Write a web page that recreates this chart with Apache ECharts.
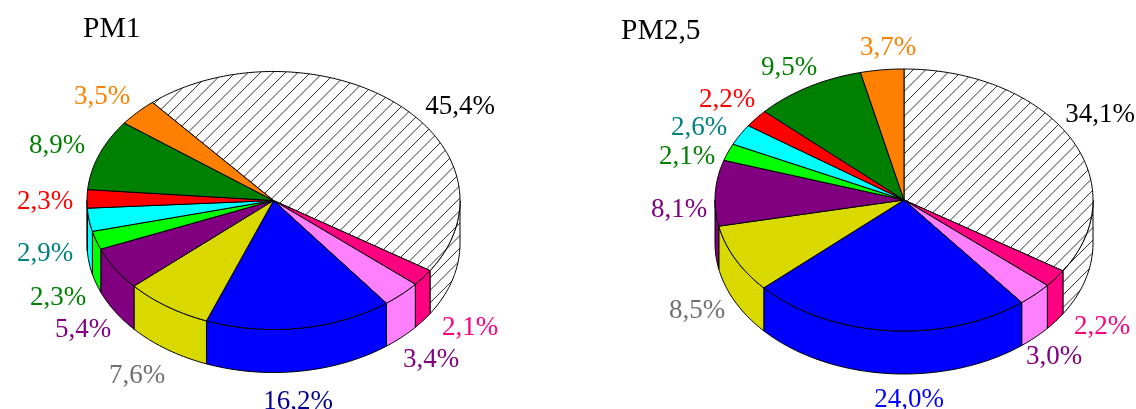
<!DOCTYPE html>
<html>
<head>
<meta charset="utf-8">
<style>html,body{margin:0;padding:0;background:#fff}#c{width:1136px;height:409px}</style>
<script src="https://cdn.jsdelivr.net/npm/echarts@6/dist/echarts.min.js"></script>
</head>
<body>
<div id="c"></div>
<script>
// Data
const pm1Values  = [45.4, 2.1, 3.4, 16.2, 7.6, 5.4, 2.3, 2.9, 2.3, 8.9, 3.5];
const pm25Values = [34.1, 2.2, 3.0, 24.0, 8.5, 8.1, 2.1, 2.6, 2.2, 9.5, 3.7];
const titles = ['PM1', 'PM2,5'];

// Styles
const sliceColors = ['hatch', '#ff0080', '#ff80ff', '#0000ff', '#d9d900', '#800080', '#00ff00', '#00ffff', '#ff0000', '#008000', '#ff8000'];
const pm1LabelColors  = ['#000000', '#ff0080', '#800080', '#000090', '#707070', '#800080', '#008000', '#008080', '#ff0000', '#008000', '#ff8000'];
const pm25LabelColors = ['#000000', '#ff0080', '#800080', '#0000ff', '#707070', '#800080', '#008000', '#008080', '#ff0000', '#008000', '#ff8000'];

// Layout
const pm1Pie  = {cx: 273.5, cy: 200.5, rx: 186.5, ry: 129, depth: 43, start: -40.5};
const pm25Pie = {cx: 904, cy: 200, rx: 189, ry: 131, depth: 43, start: 0};
const pm1LabelPos  = [[460,106.5],[470,327.5],[431,359.5],[298,401.5],[137,375.5],[83,329.5],[58,297.5],[45,253.5],[45,201.5],[57,145.5],[102,96.5]];
const pm25LabelPos = [[1100,114.5],[1102,326.5],[1054,356.5],[909,399.5],[697,310.5],[679,209.5],[687,156.5],[699,127.5],[727,99.5],[789,67.5],[888,47.5]];
const titlePos = [[83,29],[621,31]];
const FONT = '"Liberation Serif","Times New Roman",serif';

function makeHatch() {
  const s = 25, k = document.createElement('canvas');
  k.width = s; k.height = s;
  const g = k.getContext('2d');
  g.fillStyle = '#fff'; g.fillRect(0, 0, s, s);
  g.strokeStyle = '#333'; g.lineWidth = 1;
  g.beginPath();
  for (let c = -4.5; c < 2 * s + 5; c += 12.5) {
    g.moveTo(c + 5, -5); g.lineTo(-5, c + 5);
  }
  g.stroke();
  return k;
}
const hatchFill = {image: makeHatch(), repeat: 'repeat'};

function pt(p, deg, dy) {
  const a = deg * Math.PI / 180;
  return [p.cx + p.rx * Math.sin(a), p.cy - p.ry * Math.cos(a) + (dy || 0)];
}
function arc(p, a0, a1, dy) {
  const out = [], n = Math.max(2, Math.ceil(Math.abs(a1 - a0)));
  for (let i = 0; i <= n; i++) out.push(pt(p, a0 + (a1 - a0) * i / n, dy));
  return out;
}

function pieSeries(values, pie, labelPos, labelColors, title, tPos) {
  const total = values.reduce((a, b) => a + b, 0);
  return {
    type: 'custom',
    coordinateSystem: 'none',
    silent: true,
    animation: false,
    data: values.map((v, i) => ({value: [v, i]})),
    renderItem(params, api) {
      const i = api.value(1), v = api.value(0);
      let before = 0;
      for (let k = 0; k < i; k++) before += values[k];
      const a0 = pie.start + before / total * 360;
      const a1 = a0 + v / total * 360;
      const fill = sliceColors[i] === 'hatch' ? hatchFill : sliceColors[i];
      const edge = {stroke: '#000', lineWidth: 1, lineJoin: 'round'};
      const children = [];
      // visible part of the outer wall (front half of the ellipse)
      const w0 = Math.max(a0, 90), w1 = Math.min(a1, 270);
      if (w1 > w0) {
        const pts = arc(pie, w0, w1, 0).concat(arc(pie, w1, w0, pie.depth));
        children.push({type: 'polygon', z2: 1, shape: {points: pts}, style: Object.assign({fill}, edge)});
      }
      // top face
      const top = [[pie.cx, pie.cy]].concat(arc(pie, a0, a1, 0));
      children.push({type: 'polygon', z2: 2, shape: {points: top}, style: Object.assign({fill}, edge)});
      // value label
      children.push({
        type: 'text', z2: 3, x: labelPos[i][0], y: labelPos[i][1],
        style: {text: v.toFixed(1).replace('.', ',') + '%', fill: labelColors[i], font: '27px ' + FONT, align: 'center', verticalAlign: 'middle'}
      });
      if (i === 0) {
        children.push({
          type: 'text', z2: 3, x: tPos[0], y: tPos[1],
          style: {text: title, fill: '#000', font: '29.5px ' + FONT, align: 'left', verticalAlign: 'middle'}
        });
      }
      return {type: 'group', children};
    }
  };
}

const chart = echarts.init(document.getElementById('c'), null, {renderer: 'canvas', width: 1136, height: 409});
chart.setOption({
  backgroundColor: '#fff',
  animation: false,
  series: [
    pieSeries(pm1Values, pm1Pie, pm1LabelPos, pm1LabelColors, titles[0], titlePos[0]),
    pieSeries(pm25Values, pm25Pie, pm25LabelPos, pm25LabelColors, titles[1], titlePos[1])
  ]
});
</script>
</body>
</html>
